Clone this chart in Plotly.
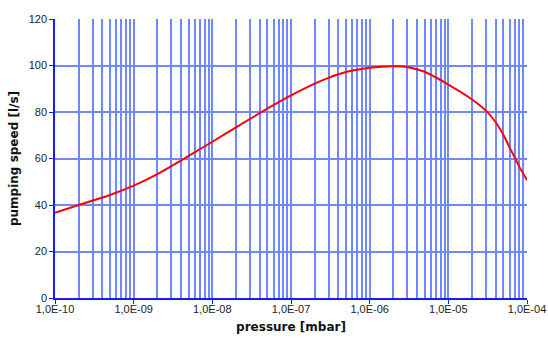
import plotly.graph_objects as go

pressure = [1e-10, 2e-10, 5e-10, 1e-9, 2e-9, 5e-9, 1e-8, 2e-8, 5e-8, 1e-7, 2e-7,
            3e-7, 5e-7, 1e-6, 2e-6, 3e-6, 5e-6, 1e-5, 2e-5, 3e-5, 4e-5, 5e-5,
            6e-5, 7e-5, 8e-5, 1e-4]
speed = [36.6, 40.0, 44.3, 48.3, 53.3, 61.1, 67.2, 73.4, 81.4, 87.1, 92.2,
         94.7, 97.2, 99.0, 99.7, 99.4, 97.3, 91.8, 85.4, 80.6, 75.6, 70.2,
         64.8, 60.4, 56.4, 50.7]

x_decades = [1e-10, 1e-9, 1e-8, 1e-7, 1e-6, 1e-5, 1e-4]
x_decade_text = ["1,0E-10", "1,0E-09", "1,0E-08", "1,0E-07", "1,0E-06", "1,0E-05", "1,0E-04"]
y_tickvals = [0, 20, 40, 60, 80, 100, 120]

# grid lines at 1..9 x each decade; labels only at decades
x_grid_vals = []
x_grid_text = []
for i, d in enumerate(x_decades):
    x_grid_vals.append(d)
    x_grid_text.append(x_decade_text[i])
    if i < len(x_decades) - 1:
        for m in range(2, 10):
            x_grid_vals.append(m * d)
            x_grid_text.append("")

grid_color = "#6f88ff"
axis_color = "#1a1aff"
title_font = dict(family="DejaVu Sans, Verdana, sans-serif", size=12, color="#111111")

fig = go.Figure()
fig.add_trace(go.Scatter(
    x=pressure, y=speed, mode="lines",
    line=dict(color="#ff0000", width=2, shape="spline", smoothing=0.7),
    showlegend=False, hoverinfo="skip",
))

fig.update_layout(
    width=548, height=339,
    margin=dict(l=55, r=21, t=19, b=41),
    paper_bgcolor="white", plot_bgcolor="white",
    font=dict(family="Liberation Sans, Arial, sans-serif", size=11, color="#222222"),
)
fig.update_xaxes(
    type="log", range=[-10, -4], automargin=False,
    tickmode="array", tickvals=x_grid_vals, ticktext=x_grid_text,
    showgrid=True, gridcolor=grid_color, gridwidth=1.5,
    ticks="",
    minor=dict(tickmode="array", tickvals=x_decades, showgrid=False,
               ticks="outside", ticklen=4, tickcolor=axis_color, tickwidth=1),
    ticklabeloverflow="allow",
    showline=True, linecolor=axis_color, linewidth=1.5,
    zeroline=False,
    title=dict(text="<b>pressure [mbar]</b>", font=title_font, standoff=9),
    tickfont=dict(size=11),
)
fig.update_yaxes(
    range=[0, 120], tickvals=y_tickvals, automargin=False,
    showgrid=True, gridcolor=grid_color, gridwidth=1.5,
    ticks="outside", ticklen=4, tickcolor=axis_color,
    showline=True, linecolor=axis_color, linewidth=1.5,
    zeroline=False,
    title=dict(text="<b>pumping speed [l/s]</b>", font=title_font, standoff=7),
    tickfont=dict(size=11),
)

fig.write_html(
    "out.html",
    config={"displayModeBar": False},
    post_script="document.body.style.margin='0';document.body.style.overflow='hidden';",
)
